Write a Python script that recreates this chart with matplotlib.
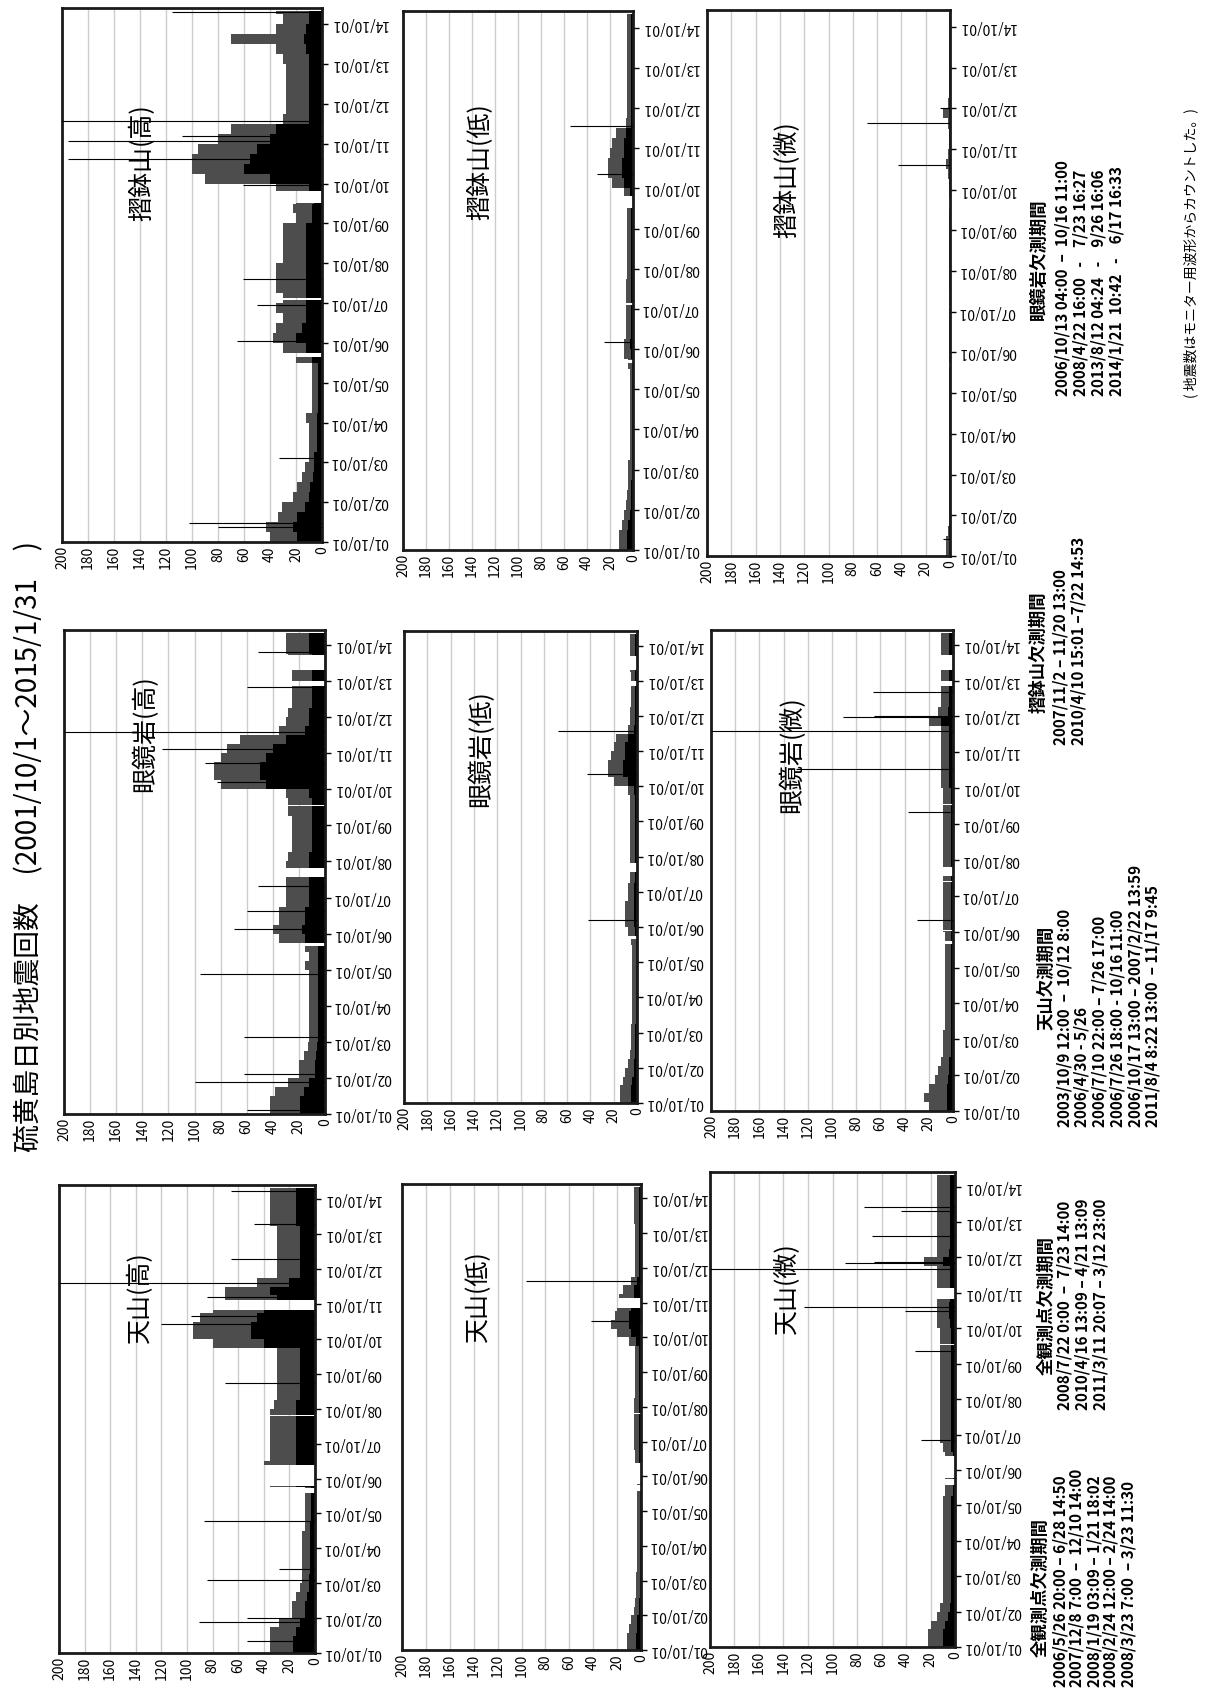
import numpy as np
import pandas as pd
import matplotlib
matplotlib.use("Agg")
import matplotlib.pyplot as plt
import matplotlib.dates as mdates

plt.rcParams['font.family'] = ['Noto Sans CJK JP', 'DejaVu Sans']

W, H = 1208, 1695

# quarterly periods 2001/10 .. 2015/01 (54 values per series)
quarters = pd.date_range("2001-10-01", "2015-01-01", freq="QS-OCT")
end_date = pd.Timestamp("2015-02-01")

# 摺鉢山
suri_hi_core = [19, 22, 19, 13, 10, 9, 7, 6, 6, 4, 4, 4, 4, 3, 3, 3, 3,
                3, 8, 12, 20, 15, 12, 12, 12, 12, 12, 12, 12, 12, 12, 12, 8,
                8, 6, 10, 40, 60, 55, 50, 40, 35, 10, 10, 10, 10, 10, 10, 10,
                12, 14, 12, 10, 10]
suri_hi_fringe = [40, 43, 34, 31, 22, 19, 15, 13, 10, 10, 10, 10, 12, 8, 8, 8, 8,
                  8, 20, 30, 38, 35, 30, 35, 30, 35, 35, 35, 30, 30, 30, 30, 20,
                  22, 20, 35, 90, 100, 100, 95, 80, 70, 30, 28, 28, 28, 28, 28, 30,
                  35, 70, 35, 30, 35]
suri_hi_spikes = [("2002-02-20", 80), ("2002-03-25", 102), ("2003-11-10", 33),
                  ("2006-10-20", 65), ("2007-09-15", 50), ("2008-05-10", 61),
                  ("2010-09-20", 61), ("2011-05-15", 195), ("2011-10-25", 195),
                  ("2011-12-10", 108), ("2012-04-28", 200), ("2015-01-20", 115)]

suri_lo_core = [5, 5, 4, 3, 2, 2, 2, 1, 1, 1, 1, 1, 1, 1, 1, 1, 1,
                1, 1, 2, 3, 2, 2, 2, 2, 2, 2, 2, 2, 2, 2, 2, 2,
                2, 2, 3, 8, 10, 10, 8, 8, 6, 2, 2, 2, 2, 2, 2, 2,
                2, 2, 2, 2, 2]
suri_lo_fringe = [12, 12, 10, 8, 6, 5, 4, 4, 4, 3, 3, 3, 3, 3, 3, 3, 3,
                  3, 4, 8, 8, 6, 6, 6, 6, 6, 6, 5, 5, 5, 5, 5, 5,
                  5, 5, 8, 18, 22, 22, 20, 18, 15, 6, 5, 5, 5, 5, 5, 5,
                  5, 5, 5, 5, 5]
suri_lo_spikes = [("2006-12-01", 25), ("2011-02-10", 31), ("2012-04-20", 55)]

suri_mi_core = [1, 1, 1, 0, 0, 0, 0, 0, 0, 0, 0, 0, 0, 0, 0, 0, 0,
                0, 0, 0, 0, 0, 0, 0, 0, 0, 0, 0, 0, 0, 0, 0, 0,
                0, 0, 0, 0, 0, 1, 0, 0, 0, 0, 1, 0, 0, 0, 0, 0,
                0, 0, 0, 0, 0]
suri_mi_fringe = [3, 3, 2, 1, 1, 1, 1, 1, 1, 1, 1, 1, 1, 1, 1, 1, 1,
                  1, 1, 1, 1, 1, 1, 1, 1, 1, 1, 1, 1, 1, 1, 1, 1,
                  1, 1, 1, 1, 2, 3, 2, 1, 1, 2, 6, 2, 1, 1, 1, 1,
                  1, 1, 1, 1, 1]
suri_mi_spikes = [("2002-03-01", 6), ("2011-05-08", 43), ("2012-05-20", 68),
                  ("2012-09-30", 8)]

# 眼鏡岩
megane_hi_core = [19, 19, 16, 12, 8, 8, 7, 6, 5, 5, 5, 5, 5, 5, 5, 5, 5,
                  5, 5, 15, 18, 15, 15, 12, 12, 12, 12, 12, 12, 10, 10, 10, 10,
                  10, 10, 12, 45, 50, 50, 45, 40, 30, 15, 12, 12, 10, 10, 10, 10,
                  10, 10, 12, 12, 12]
megane_hi_fringe = [42, 42, 38, 28, 20, 20, 16, 13, 12, 12, 12, 12, 12, 12, 12, 12, 15,
                    12, 15, 35, 40, 35, 35, 30, 30, 30, 30, 30, 28, 25, 25, 25, 25,
                    28, 28, 30, 80, 85, 85, 80, 75, 65, 35, 30, 28, 25, 25, 25, 25,
                    25, 28, 30, 30, 30]
megane_hi_spikes = [("2001-11-10", 60), ("2002-08-25", 100), ("2002-11-05", 62),
                    ("2003-11-15", 62), ("2005-08-15", 96), ("2006-11-20", 70),
                    ("2007-05-15", 60), ("2008-01-25", 51), ("2010-12-10", 83),
                    ("2011-06-20", 92), ("2011-11-10", 125), ("2012-05-01", 200),
                    ("2013-08-05", 60), ("2014-07-20", 51)]

megane_lo_core = [5, 5, 4, 3, 3, 2, 2, 2, 2, 1, 1, 1, 1, 1, 1, 1, 1,
                  1, 1, 2, 3, 3, 3, 3, 3, 2, 2, 2, 2, 2, 2, 2, 2,
                  2, 2, 3, 8, 12, 12, 10, 10, 8, 3, 2, 2, 2, 2, 2, 2,
                  2, 2, 2, 2, 2]
megane_lo_fringe = [15, 15, 12, 10, 8, 6, 5, 5, 5, 4, 4, 4, 4, 4, 4, 4, 4,
                    4, 5, 8, 10, 10, 10, 8, 8, 6, 6, 6, 6, 6, 6, 6, 6,
                    6, 6, 8, 20, 25, 25, 22, 20, 18, 8, 6, 6, 5, 5, 5, 5,
                    6, 6, 6, 6, 6]
megane_lo_spikes = [("2006-12-10", 42), ("2011-02-10", 43), ("2012-05-01", 68)]

megane_mi_core = [5, 5, 5, 4, 3, 3, 2, 2, 2, 2, 2, 2, 2, 2, 2, 2, 2,
                  2, 2, 2, 2, 2, 2, 2, 2, 2, 2, 2, 2, 2, 2, 2, 2,
                  2, 2, 2, 3, 3, 3, 3, 3, 3, 3, 10, 4, 3, 3, 3, 3,
                  3, 3, 3, 3, 3]
megane_mi_fringe = [20, 24, 20, 15, 12, 10, 8, 8, 8, 7, 7, 7, 7, 7, 7, 7, 7,
                    7, 7, 7, 8, 8, 8, 8, 8, 8, 8, 8, 8, 8, 8, 8, 8,
                    8, 8, 8, 10, 10, 10, 10, 10, 10, 10, 20, 12, 10, 10, 10, 10,
                    10, 10, 10, 10, 10]
megane_mi_spikes = [("2007-01-25", 30), ("2010-01-30", 37), ("2011-04-20", 130),
                    ("2012-05-05", 200), ("2012-09-25", 91), ("2012-10-10", 65),
                    ("2013-06-10", 66)]

# 天山
tenzan_hi_core = [17, 17, 15, 12, 8, 8, 6, 5, 5, 4, 4, 4, 4, 4, 4, 3, 3,
                  3, 3, 15, 15, 15, 15, 15, 15, 15, 15, 15, 15, 12, 12, 12, 12,
                  12, 12, 40, 50, 50, 45, 40, 30, 35, 20, 12, 12, 12, 12, 12, 12,
                  15, 15, 15, 15, 15]
tenzan_hi_fringe = [35, 35, 35, 28, 18, 18, 15, 12, 10, 10, 10, 10, 10, 10, 8, 8, 8,
                    8, 8, 35, 40, 40, 35, 35, 35, 35, 35, 35, 32, 30, 30, 30, 30,
                    30, 30, 80, 95, 95, 90, 80, 70, 70, 45, 30, 30, 30, 30, 30, 30,
                    35, 35, 35, 35, 35]
tenzan_hi_spikes = [("2002-02-01", 53), ("2002-08-25", 91), ("2002-10-01", 53),
                    ("2003-11-05", 84), ("2004-03-01", 28), ("2005-07-15", 87),
                    ("2009-07-01", 70), ("2011-03-10", 120), ("2011-06-01", 97),
                    ("2011-12-15", 84), ("2012-05-10", 200), ("2013-01-20", 66),
                    ("2014-01-20", 48), ("2014-12-25", 66)]

tenzan_lo_core = [4, 4, 3, 3, 2, 2, 1, 1, 1, 1, 1, 1, 1, 1, 1, 1, 1,
                  1, 1, 1, 1, 2, 2, 2, 2, 2, 2, 2, 2, 2, 2, 2, 2,
                  2, 2, 4, 8, 10, 10, 8, 6, 6, 3, 2, 2, 2, 2, 2, 2,
                  2, 2, 2, 2, 2]
tenzan_lo_fringe = [12, 12, 10, 8, 6, 5, 4, 4, 4, 3, 3, 3, 3, 3, 3, 3, 3,
                    3, 3, 3, 3, 5, 5, 6, 6, 6, 6, 6, 6, 5, 5, 5, 5,
                    5, 5, 10, 20, 25, 22, 20, 18, 15, 8, 5, 5, 5, 5, 5, 5,
                    6, 6, 6, 6, 6]
tenzan_lo_spikes = [("2011-03-20", 42), ("2012-05-15", 96)]

tenzan_mi_core = [10, 10, 8, 6, 4, 3, 3, 3, 3, 3, 3, 3, 3, 3, 3, 3, 3,
                  2, 2, 2, 2, 2, 3, 3, 3, 3, 3, 3, 3, 3, 3, 3, 3,
                  3, 3, 3, 4, 5, 5, 4, 4, 4, 4, 10, 5, 4, 4, 4, 4,
                  4, 4, 4, 4, 4]
tenzan_mi_fringe = [22, 22, 20, 15, 12, 10, 10, 10, 10, 10, 10, 10, 10, 10, 10, 10, 10,
                    8, 8, 8, 8, 8, 10, 12, 12, 12, 12, 12, 12, 12, 12, 12, 12,
                    12, 12, 12, 15, 15, 15, 15, 15, 15, 15, 25, 15, 15, 15, 15, 15,
                    15, 15, 15, 15, 15]
tenzan_mi_spikes = [("2007-08-10", 28), ("2010-02-05", 33), ("2011-04-01", 41),
                    ("2011-05-10", 123), ("2012-06-05", 200), ("2012-08-01", 90),
                    ("2012-08-15", 66), ("2013-05-10", 68), ("2014-01-25", 44),
                    ("2014-03-10", 74)]

# 欠測期間
all_gaps = [("2006-05-26", "2006-06-28"), ("2007-12-08", "2007-12-10"),
            ("2008-01-19", "2008-01-21"), ("2008-02-24", "2008-02-25"),
            ("2008-03-23", "2008-03-24"), ("2008-07-22", "2008-07-23"),
            ("2010-04-16", "2010-04-21"), ("2011-03-11", "2011-03-12")]
tenzan_gaps = [("2003-10-09", "2003-10-12"), ("2006-04-30", "2006-05-26"),
               ("2006-07-10", "2006-10-16"), ("2006-10-17", "2007-02-22"),
               ("2011-08-04", "2011-11-17")]
megane_gaps = [("2006-10-13", "2006-10-16"), ("2008-04-22", "2008-07-23"),
               ("2013-08-12", "2013-09-26"), ("2014-01-21", "2014-06-17")]
suri_gaps = [("2007-11-02", "2007-11-20"), ("2010-04-10", "2010-07-22")]

# annotation texts
note_megane = ["2006/10/13 04:00  –  10/16 11:00", "2008/4/22 16:00   -    7/23 16:27",
               "2013/8/12 04:24   -    9/26 16:06", "2014/1/21  10:42   -    6/17 16:33"]
note_suri = ["2007/11/2 – 11/20 13:00", "2010/4/10 15:01 –7/22 14:53"]
note_tenzan = ["2003/10/9 12:00  –  10/12 8:00", "2006/4/30 - 5/26",
               "2006/7/10 22:00 – 7/26 17:00", "2006/7/26 18:00 - 10/16 11:00",
               "2006/10/17 13:00 – 2007/2/22 13:59", "2011/8/4 8:22 13:00  – 11/17 9:45"]
note_all1 = ["2008/7/22 0:00  –  7/23 14:00", "2010/4/16 13:09 – 4/21 13:09",
             "2011/3/11 20:07 – 3/12 23:00"]
note_all2 = ["2006/5/26 20:00 – 6/28 14:50", "2007/12/8 7:00  –  12/10 14:00",
             "2008/1/19 03:09 – 1/21 18:02", "2008/2/24 12:00 – 2/24 14:00",
             "2008/3/23 7:00  – 3/23 11:30"]


def to_num(s):
    return mdates.date2num(pd.Timestamp(s))


def split(a, b, gaps):
    segs = [(a, b)]
    for g0, g1 in gaps:
        new = []
        for s0, s1 in segs:
            if g1 <= s0 or g0 >= s1:
                new.append((s0, s1))
            else:
                if g0 > s0:
                    new.append((s0, g0))
                if g1 < s1:
                    new.append((g1, s1))
        segs = new
    return segs


edges = mdates.date2num(list(quarters) + [end_date])
t0 = to_num("2001-10-01")
t1 = to_num("2015-03-01")
year_ticks = [pd.Timestamp(f"{y}-10-01") for y in range(2001, 2015)]

fig = plt.figure(figsize=(W / 100, H / 100), dpi=100)


def panel(rect, core, fringe, spikes, gaps, label, lab_pos):
    x0, y0, x1, y1 = rect
    ax = fig.add_axes([x0 / W, 1 - y1 / H, (x1 - x0) / W, (y1 - y0) / H])
    g = [(to_num(a), to_num(b)) for a, b in gaps + all_gaps]
    ys, hs, cs, fs = [], [], [], []
    for q0, q1, c, f in zip(edges[:-1], edges[1:], core, fringe):
        for s0, s1 in split(q0, q1, g):
            ys.append(s0)
            hs.append(s1 - s0)
            cs.append(c)
            fs.append(f)
    ax.barh(ys, fs, height=hs, align='edge', color='0.3', lw=0, zorder=2)
    ax.barh(ys, cs, height=hs, align='edge', color='black', lw=0, zorder=2.5)
    sd = [to_num(d) for d, v in spikes]
    sv = [v for d, v in spikes]
    keep = [i for i, d in enumerate(sd) if not any(a <= d < b for a, b in g)]
    ax.hlines([sd[i] for i in keep], 0, [sv[i] for i in keep],
              color='black', lw=0.8, zorder=3)
    ax.set_xlim(200, 0)
    ax.set_ylim(t0, t1)
    ax.set_xticks(range(0, 201, 20))
    ax.set_xticklabels([str(v) for v in range(0, 201, 20)], rotation=90,
                       ha='center', va='top', fontsize=10)
    ax.tick_params(axis='x', length=0, pad=3)
    ax.yaxis.tick_right()
    ax.set_yticks(mdates.date2num(year_ticks))
    ax.set_yticklabels([d.strftime('%y/%m/%d') for d in year_ticks],
                       rotation=180, ha='left', va='center', fontsize=10)
    ax.tick_params(axis='y', direction='out', length=4, width=1, pad=2)
    ax.grid(axis='x', color='0.8', lw=1.0)
    ax.set_axisbelow(True)
    for sp in ax.spines.values():
        sp.set_linewidth(2)
        sp.set_color('0.1')
    ax.text(lab_pos[0], lab_pos[1], label, transform=ax.transAxes,
            rotation=90, ha='center', va='center', fontsize=18, zorder=4)
    return ax


panel((62, 8, 322, 542), suri_hi_core, suri_hi_fringe, suri_hi_spikes,
      suri_gaps, "摺鉢山(高)", (0.31, 0.71))
panel((403, 11, 633, 550), suri_lo_core, suri_lo_fringe, suri_lo_spikes,
      suri_gaps, "摺鉢山(低)", (0.335, 0.72))
panel((707, 10, 950, 556), suri_mi_core, suri_mi_fringe, suri_mi_spikes,
      suri_gaps, "摺鉢山(微)", (0.325, 0.69))

panel((64, 630, 325, 1114), megane_hi_core, megane_hi_fringe, megane_hi_spikes,
      megane_gaps, "眼鏡岩(高)", (0.31, 0.785))
panel((404, 631, 637, 1103), megane_lo_core, megane_lo_fringe, megane_lo_spikes,
      megane_gaps, "眼鏡岩(低)", (0.33, 0.75))
panel((711, 630, 953, 1111), megane_mi_core, megane_mi_fringe, megane_mi_spikes,
      megane_gaps, "眼鏡岩(微)", (0.335, 0.74))

panel((59, 1185, 315, 1653), tenzan_hi_core, tenzan_hi_fringe, tenzan_hi_spikes,
      tenzan_gaps, "天山(高)", (0.316, 0.76))
panel((402, 1184, 641, 1650), tenzan_lo_core, tenzan_lo_fringe, tenzan_lo_spikes,
      tenzan_gaps, "天山(低)", (0.32, 0.76))
panel((710, 1172, 955, 1647), tenzan_mi_core, tenzan_mi_fringe, tenzan_mi_spikes,
      tenzan_gaps, "天山(微)", (0.31, 0.756))

# title (reads bottom to top)
fig.text(29 / W, 1 - 1152 / H, "硫黄島日別地震回数　(2001/10/1～2015/1/31　)",
         rotation=90, ha='center', va='bottom', fontsize=20)


def block(title, lines, tx, ty, lx, ly, dx):
    fig.text(tx / W, 1 - ty / H, title, rotation=90, ha='center', va='bottom',
             fontsize=12.5, fontweight='bold')
    for i, s in enumerate(lines):
        fig.text((lx + i * dx) / W, 1 - ly / H, s, rotation=90, ha='center',
                 va='bottom', fontsize=11, fontweight='bold')


block("眼鏡岩欠測期間", note_megane, 1039, 320, 1062, 396, 18)
block("摺鉢山欠測期間", note_suri, 1039, 713, 1060, 745, 18)
block("天山欠測期間", note_tenzan, 1047, 1030, 1064, 1127, 17.8)
block("全観測点欠測期間", note_all1, 1047, 1375, 1064, 1410, 18.5)
block("全観測点欠測期間", note_all2, 1041, 1657, 1060, 1687, 17)

fig.text(1191 / W, 1 - 398 / H, "( 地震数はモニター用波形からカウントした。)",
         rotation=90, ha='center', va='bottom', fontsize=10)

fig.savefig("out.png", dpi=100)
